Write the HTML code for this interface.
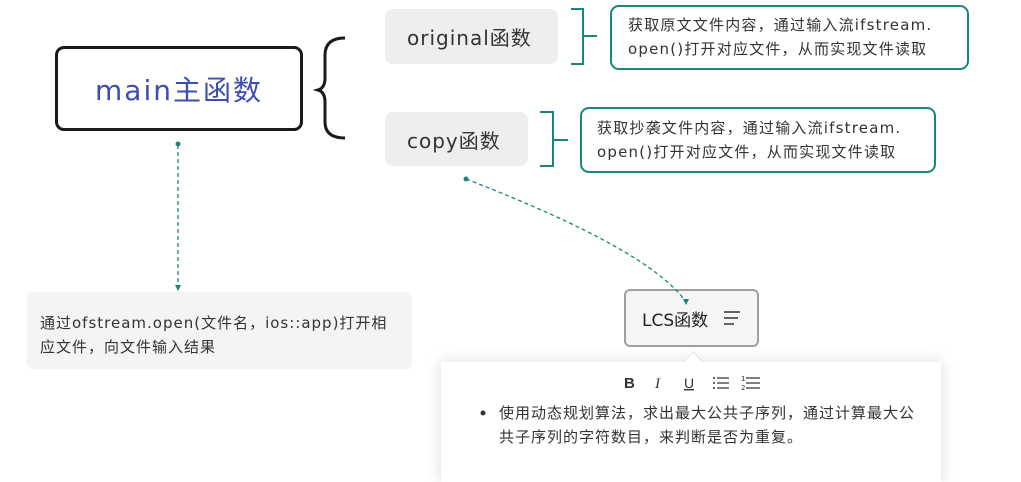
<!DOCTYPE html>
<html><head><meta charset="utf-8"><style>
body{margin:0;width:1021px;height:468px;background:#fff;position:relative;overflow:hidden;font-family:"DejaVu Sans","Noto Sans CJK SC",sans-serif;color:#333}
.a{position:absolute;box-sizing:border-box}
.t{font-size:15px;line-height:24px;color:#333;white-space:nowrap;letter-spacing:1.2px}
</style></head><body>
<div class="a" style="left:55px;top:46px;width:248px;height:85px;border:3px solid #1a1a1a;border-radius:9px;display:flex;align-items:center;justify-content:center;font-size:28px;letter-spacing:2px;color:#3d4db0">main主函数</div>
<div class="a" style="left:385px;top:9px;width:173px;height:55px;background:#eee;border-radius:8px;display:flex;align-items:center;padding-left:22px;font-size:20px;letter-spacing:1px;color:#333">original函数</div>
<div class="a" style="left:385px;top:112px;width:143px;height:54px;background:#eee;border-radius:8px;display:flex;align-items:center;padding-left:22px;font-size:20px;letter-spacing:1px;color:#333">copy函数</div>
<div class="a t" style="left:610px;top:5px;width:359px;height:65px;border:2px solid #18877a;border-radius:9px;padding:6px 0 0 16px">获取原文文件内容，通过输入流ifstream.<br>open()打开对应文件，从而实现文件读取</div>
<div class="a t" style="left:580px;top:107px;width:356px;height:66px;border:2px solid #18877a;border-radius:9px;padding:7px 0 0 15px">获取抄袭文件内容，通过输入流ifstream.<br>open()打开对应文件，从而实现文件读取</div>
<div class="a t" style="left:27px;top:292px;width:385px;height:77px;background:#f4f4f4;border-radius:6px;padding:19px 0 0 13px;letter-spacing:1px">通过ofstream.open(文件名，ios::app)打开相<br>应文件，向文件输入结果</div>
<div class="a" style="left:441px;top:362px;width:500px;height:120px;background:#fff;box-shadow:0 0 14px rgba(0,0,0,.15)"></div>
<div class="a" style="left:624px;top:289px;width:135px;height:58px;border:2px solid #a0a0a0;border-radius:6px;background:#f5f5f5;display:flex;align-items:center;padding-left:16px;font-size:17px;color:#222">LCS函数</div>
<svg class="a" style="left:0;top:0" width="1021" height="468">
<path d="M345 38 Q325 38 325 55 L325 78 Q325 88 318 90 Q325 92 325 102 L325 122 Q325 138 345 138" fill="none" stroke="#1a1a1a" stroke-width="3"/>
<g stroke="#18877a" stroke-width="2" fill="none">
<path d="M571 9 H583 V64 H571 M583 36 H597"/>
<path d="M540 112 H553 V166 H540 M553 140 H568"/>
</g>
<g stroke="#18877a" stroke-width="1.3" stroke-dasharray="4,3" fill="none">
<path d="M178 145 V288"/>
<path d="M466 179 Q650 250 686 302"/>
</g>
<circle cx="178" cy="144" r="2.5" fill="#18877a"/>
<circle cx="466" cy="179" r="2.5" fill="#18877a"/>
<path d="M175 285 L181 285 L178 291Z" fill="#18877a"/>
<path d="M683 299 L689 299 L686 305Z" fill="#18877a"/>
<g stroke="#333" stroke-width="1.5"><path d="M724 312 H740 M724 318 H738 M724 324 H734"/></g>
<path d="M683 362 L693 352 L703 362" fill="#fff" stroke="#e5e5e5"/>
<text x="624" y="388" font-size="15" font-weight="bold" fill="#333" font-family="Liberation Sans">B</text>
<text x="655" y="388" font-size="15" font-style="italic" fill="#333" font-family="Liberation Serif">I</text>
<text x="684" y="388" font-size="14" fill="#333" font-family="Liberation Sans" text-decoration="underline">U</text>
<g stroke="#333" stroke-width="1.3"><path d="M717 378 H729 M717 383 H729 M717 388 H729 M746 378 H760 M746 383 H760 M746 388 H760"/></g>
<g fill="#333"><circle cx="714" cy="378" r="1"/><circle cx="714" cy="383" r="1"/><circle cx="714" cy="388" r="1"/></g>
<text x="741" y="381" font-size="7" fill="#333">1</text><text x="741" y="390" font-size="7" fill="#333">2</text>
<circle cx="483" cy="413" r="2.5" fill="#333"/>
</svg>
<div class="a" style="left:499px;top:401px;font-size:15px;letter-spacing:1px;line-height:24px;color:#333;width:440px;white-space:nowrap">使用动态规划算法，求出最大公共子序列，通过计算最大公<br>共子序列的字符数目，来判断是否为重复。</div>
</body></html>
